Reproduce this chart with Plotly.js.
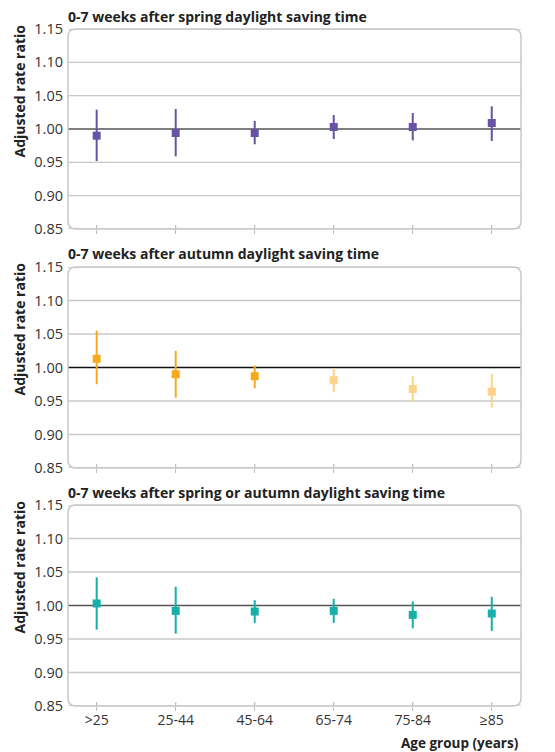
<!DOCTYPE html>
<html>
<head>
<meta charset="utf-8">
<script src="https://cdn.plot.ly/plotly-3.0.1.min.js"></script>
<style>html,body{margin:0;padding:0;background:#fff;}#chart{width:555px;height:752px;}</style>
</head>
<body>
<div id="chart"></div>
<script>
// ---- data ----
var categories = ['>25', '25-44', '45-64', '65-74', '75-84', '\u226585'];
var yTicks = [0.85, 0.90, 0.95, 1.00, 1.05, 1.10, 1.15];
var refValue = 1.00;
var panelTitles = [
  '0-7 weeks after spring daylight saving time',
  '0-7 weeks after autumn daylight saving time',
  '0-7 weeks after spring or autumn daylight saving time'
];
var springRatio = [0.990, 0.994, 0.994, 1.003, 1.003, 1.009];
var springUpper = [1.029, 1.030, 1.012, 1.021, 1.024, 1.034];
var springLower = [0.952, 0.959, 0.977, 0.985, 0.983, 0.982];
var autumnRatio = [1.013, 0.990, 0.987, 0.981, 0.968, 0.964];
var autumnUpper = [1.055, 1.025, 1.003, 0.999, 0.987, 0.990];
var autumnLower = [0.975, 0.955, 0.969, 0.963, 0.949, 0.940];
var autumnTone  = ['dark', 'dark', 'dark', 'light', 'light', 'light'];
var bothRatio = [1.003, 0.992, 0.991, 0.992, 0.986, 0.988];
var bothUpper = [1.042, 1.028, 1.008, 1.010, 1.006, 1.013];
var bothLower = [0.964, 0.958, 0.974, 0.974, 0.966, 0.962];
var xTitle = 'Age group (years)';
var yTitle = 'Adjusted rate ratio';

// ---- layout geometry ----
var W = 555, H = 752;
var FONT = 'Open Sans, Noto Sans, sans-serif';
var xDom = [68 / W, 521 / W];
var panels = [[29, 229], [267, 468], [505, 706]]; // px top, bottom
function yDom(p) { return [1 - p[1] / H, 1 - p[0] / H]; }

function pointTrace(axisIdx, x, y, up, lo, color) {
  var s = axisIdx === 1 ? '' : String(axisIdx);
  return {
    type: 'scatter', mode: 'markers', x: x, y: y,
    xaxis: 'x' + s, yaxis: 'y' + s, showlegend: false, hoverinfo: 'skip',
    marker: {symbol: 'square', size: 8, color: color},
    error_y: {type: 'data', symmetric: false,
      array: y.map(function (v, i) { return up[i] - v; }),
      arrayminus: y.map(function (v, i) { return v - lo[i]; }),
      color: color, thickness: 2, width: 0}
  };
}

var traces = [];
traces.push(pointTrace(1, categories, springRatio, springUpper, springLower, '#6753a6'));
['dark', 'light'].forEach(function (tone) {
  var idx = [];
  autumnTone.forEach(function (t, i) { if (t === tone) idx.push(i); });
  var pick = function (arr) { return idx.map(function (i) { return arr[i]; }); };
  traces.push(pointTrace(2, pick(categories), pick(autumnRatio), pick(autumnUpper), pick(autumnLower),
    tone === 'dark' ? '#f7a91e' : '#fdd289'));
});
traces.push(pointTrace(3, categories, bothRatio, bothUpper, bothLower, '#16b0a9'));

var layout = {
  width: W, height: H,
  margin: {l: 0, r: 0, t: 0, b: 0},
  paper_bgcolor: '#fff', plot_bgcolor: '#fff',
  font: {family: FONT, color: '#333'},
  showlegend: false,
  shapes: [], annotations: []
};

var rx = 8 / 453, ry = 8 / 200;
var boxPath = 'M' + rx + ',0 L' + (1 - rx) + ',0 Q1,0 1,' + ry + ' L1,' + (1 - ry) +
  ' Q1,1 ' + (1 - rx) + ',1 L' + rx + ',1 Q0,1 0,' + (1 - ry) + ' L0,' + ry + ' Q0,0 ' + rx + ',0 Z';

for (var k = 0; k < 3; k++) {
  var s = k === 0 ? '' : String(k + 1);
  layout['xaxis' + s] = {
    domain: xDom, anchor: 'y' + s, type: 'category',
    categoryorder: 'array', categoryarray: categories,
    range: [-0.363, 5.37], showgrid: false, zeroline: false, showline: false,
    ticks: 'outside', ticklen: 4, tickwidth: 1.2, tickcolor: '#bdbdbd',
    ticklabelstandoff: -3,
    showticklabels: k === 2, tickfont: {size: 14, color: '#333', family: FONT},
    automargin: false, fixedrange: true
  };
  layout['yaxis' + s] = {
    domain: yDom(panels[k]), anchor: 'x' + s,
    range: [0.85, 1.15], tickvals: yTicks, tickformat: '.2f',
    showgrid: false, zeroline: false, showline: false, ticks: '',
    ticklabelstandoff: 4,
    tickfont: {size: 14.5, color: '#333', family: FONT},
    automargin: false, fixedrange: true
  };
  yTicks.forEach(function (t) {
    if (t === refValue) return;
    layout.shapes.push({type: 'line', xref: 'x' + s + ' domain', yref: 'y' + s,
      x0: 0, x1: 1, y0: t, y1: t, layer: 'below',
      line: {color: '#c8c8c8', width: 1.3}});
  });
  // inner part of the tick marks that cross the bottom border
  categories.forEach(function (c) {
    layout.shapes.push({type: 'line', xref: 'x' + s, yref: 'y' + s + ' domain',
      x0: c, x1: c, y0: 0, y1: 0.02, layer: 'below',
      line: {color: '#bdbdbd', width: 1.2}});
  });
  layout.shapes.push({type: 'line', xref: 'x' + s + ' domain', yref: 'y' + s,
    x0: 0, x1: 1, y0: refValue, y1: refValue, layer: 'below',
    line: {color: k === 1 ? '#111' : '#555', width: 1.5}});
  layout.shapes.push({type: 'path', xref: 'x' + s + ' domain', yref: 'y' + s + ' domain',
    path: boxPath, layer: 'above', line: {color: '#c8c8c8', width: 1.5}, fillcolor: 'rgba(0,0,0,0)'});
  layout.annotations.push({text: '<b>' + panelTitles[k] + '</b>', xref: 'paper', yref: 'paper',
    x: 66 / W, y: 1 - (panels[k][0] - 13) / H, xanchor: 'left', yanchor: 'middle', showarrow: false,
    font: {size: 14, color: '#222', family: FONT}});
  layout.annotations.push({text: '<b>' + yTitle + '</b>', xref: 'paper', yref: 'paper',
    x: 19 / W, y: 1 - (panels[k][0] - 6) / H, xanchor: 'center', yanchor: 'top', textangle: -90,
    showarrow: false, font: {size: 14, color: '#222', family: FONT}});
}
layout.annotations.push({text: '<b>' + xTitle + '</b>', xref: 'paper', yref: 'paper',
  x: 521 / W, y: 1 - 743 / H, xanchor: 'right', yanchor: 'middle', showarrow: false,
  font: {size: 13.5, color: '#222', family: FONT}});

Plotly.newPlot('chart', traces, layout, {staticPlot: true, displayModeBar: false});
</script>
</body>
</html>
